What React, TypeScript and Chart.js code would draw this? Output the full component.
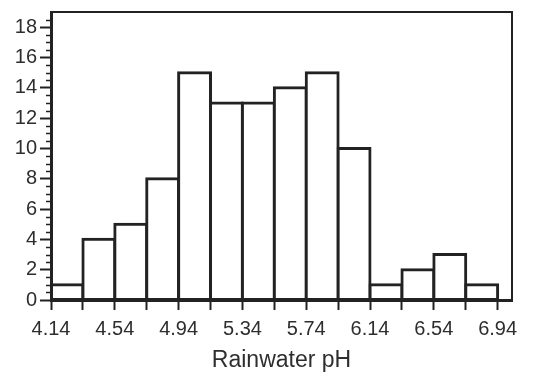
import React, { useEffect, useRef } from "react";
import { Chart, registerables } from "chart.js";

Chart.register(...registerables);

const binStarts = [4.14, 4.34, 4.54, 4.74, 4.94, 5.14, 5.34, 5.54, 5.74, 5.94, 6.14, 6.34, 6.54, 6.74];
const counts = [1, 4, 5, 8, 15, 13, 13, 14, 15, 10, 1, 2, 3, 1];
const xTickValues = [4.14, 4.34, 4.54, 4.74, 4.94, 5.14, 5.34, 5.54, 5.74, 5.94, 6.14, 6.34, 6.54, 6.74, 6.94];
const yTickValues = [0, 2, 4, 6, 8, 10, 12, 14, 16, 18];
const yMinorValues = [0.5, 1, 1.5, 2.5, 3, 3.5, 4.5, 5, 5.5, 6.5, 7, 7.5, 8.5, 9, 9.5, 10.5, 11, 11.5, 12.5, 13, 13.5, 14.5, 15, 15.5, 16.5, 17, 17.5, 18.5];
const xTitle = "Rainwater pH";
const binWidth = 0.2;

const LINE = "#222222";
const TEXT = "#2e2e2e";
const FONT = "'Liberation Sans', Arial, Helvetica, sans-serif";

export default function App() {
  const ref = useRef<HTMLCanvasElement | null>(null);
  useEffect(() => {
    if (!ref.current) return;
    const framePlugin = {
      id: "frame",
      afterDraw(chart: any) {
        const { ctx, chartArea } = chart;
        const y = chart.scales.y;
        ctx.save();
        ctx.strokeStyle = LINE;
        ctx.lineWidth = 2;
        ctx.beginPath();
        ctx.moveTo(chartArea.left, chartArea.top);
        ctx.lineTo(chartArea.right, chartArea.top);
        ctx.lineTo(chartArea.right, chartArea.bottom);
        ctx.stroke();
        ctx.lineWidth = 1.5;
        ctx.beginPath();
        for (const v of yMinorValues) {
          const py = Math.round(y.getPixelForValue(v)) + 0.5;
          ctx.moveTo(chartArea.left - 5, py);
          ctx.lineTo(chartArea.left, py);
        }
        ctx.stroke();
        ctx.restore();
      },
    };
    const chart = new Chart(ref.current, {
      type: "bar",
      data: {
        datasets: [
          {
            data: binStarts.map((s, i) => ({ x: +(s + binWidth / 2).toFixed(2), y: counts[i] })),
            backgroundColor: "#ffffff",
            borderColor: LINE,
            borderWidth: 3,
            borderSkipped: false,
            inflateAmount: 1.5,
            barPercentage: 1,
            categoryPercentage: 1,
          } as any,
        ],
      },
      options: {
        animation: false,
        responsive: false,
        devicePixelRatio: 1,
        layout: { padding: { top: 12, right: 26, left: 0, bottom: 0 } },
        plugins: { legend: { display: false }, tooltip: { enabled: false } },
        scales: {
          x: {
            type: "linear",
            offset: false,
            min: 4.14,
            max: 7.03,
            afterBuildTicks: (s: any) => {
              s.ticks = xTickValues.map((v) => ({ value: v }));
            },
            afterFit: (s: any) => {
              s.height = 72;
              s.paddingLeft = 0;
              s.paddingRight = 0;
            },
            grid: { offset: false, drawOnChartArea: false, drawTicks: true, tickLength: 10, tickWidth: 2, tickColor: LINE },
            border: { display: true, color: LINE, width: 3, z: 1 },
            ticks: {
              autoSkip: false,
              maxRotation: 0,
              padding: 7,
              color: TEXT,
              font: { family: FONT, size: 20 },
              callback: (v: any, i: number) => (i % 2 === 0 ? Number(v).toFixed(2) : ""),
            },
            title: {
              display: true,
              text: xTitle,
              color: TEXT,
              font: { family: FONT, size: 23, lineHeight: 1 },
              padding: { top: 0, bottom: 0 },
            },
          },
          y: {
            min: 0,
            max: 19,
            afterBuildTicks: (s: any) => {
              s.ticks = yTickValues.map((v) => ({ value: v }));
            },
            afterFit: (s: any) => {
              s.width = 51;
              s.paddingTop = 0;
              s.paddingBottom = 0;
            },
            grid: { drawOnChartArea: false, drawTicks: true, tickLength: 11, tickWidth: 2, tickColor: LINE },
            border: { display: true, color: LINE, width: 3, z: 1 },
            ticks: {
              autoSkip: false,
              padding: 3,
              color: TEXT,
              font: { family: FONT, size: 20 },
              callback: (v: any) => String(v),
            },
          },
        },
      },
      plugins: [framePlugin],
    });
    return () => chart.destroy();
  }, []);
  return (
    <div style={{ position: "fixed", left: 0, top: 0, width: 538, height: 372, background: "#fff" }}>
      <canvas ref={ref} width={538} height={372} />
    </div>
  );
}
